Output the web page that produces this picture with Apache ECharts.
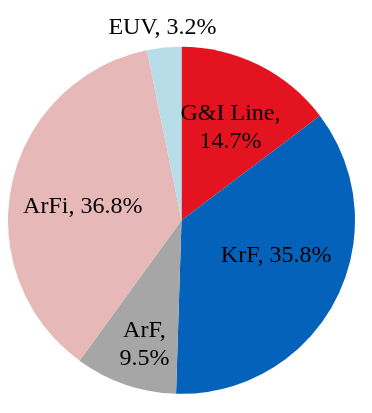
<!DOCTYPE html>
<html><head><meta charset="utf-8">
<script src="https://cdn.jsdelivr.net/npm/echarts@6/dist/echarts.min.js"></script>
<style>html,body{margin:0;padding:0;background:#fff}#c{width:372px;height:413px}</style>
</head><body><div id="c"></div>
<script>
const categories = ['G&I Line', 'KrF', 'ArF', 'ArFi', 'EUV'];
const shares = [14.7, 35.8, 9.5, 36.8, 3.2];
const colors = ['#E3141F', '#0462BA', '#A6A6A6', '#E6B8B7', '#B7DDE8'];
const twoLineLabels = ['G&I Line', 'ArF'];
// label nudges (px) relative to the default inside position
const nudges = [[9, -12], [15, -6], [-8, 39], [-11, 5], [-10, -103]];

const chart = echarts.init(document.getElementById('c'), null, {renderer: 'canvas'});
chart.setOption({
  animation: false,
  series: [{
    type: 'pie',
    center: [181.5, 220.3],
    radius: 173.5,
    startAngle: 90,
    clockwise: true,
    avoidLabelOverlap: false,
    label: {
      show: true,
      position: 'inside',
      color: '#000',
      fontFamily: '"Liberation Serif", "Times New Roman", Times, serif',
      fontSize: 24,
      lineHeight: 28,
      align: 'center',
      formatter: p => twoLineLabels.includes(p.name)
        ? p.name + ',\n' + p.value.toFixed(1) + '%'
        : p.name + ', ' + p.value.toFixed(1) + '%'
    },
    labelLine: {show: false},
    labelLayout: p => ({dx: nudges[p.dataIndex][0], dy: nudges[p.dataIndex][1]}),
    emphasis: {disabled: true},
    data: categories.map((c, i) => ({name: c, value: shares[i], itemStyle: {color: colors[i]}}))
  }]
});
</script></body></html>
